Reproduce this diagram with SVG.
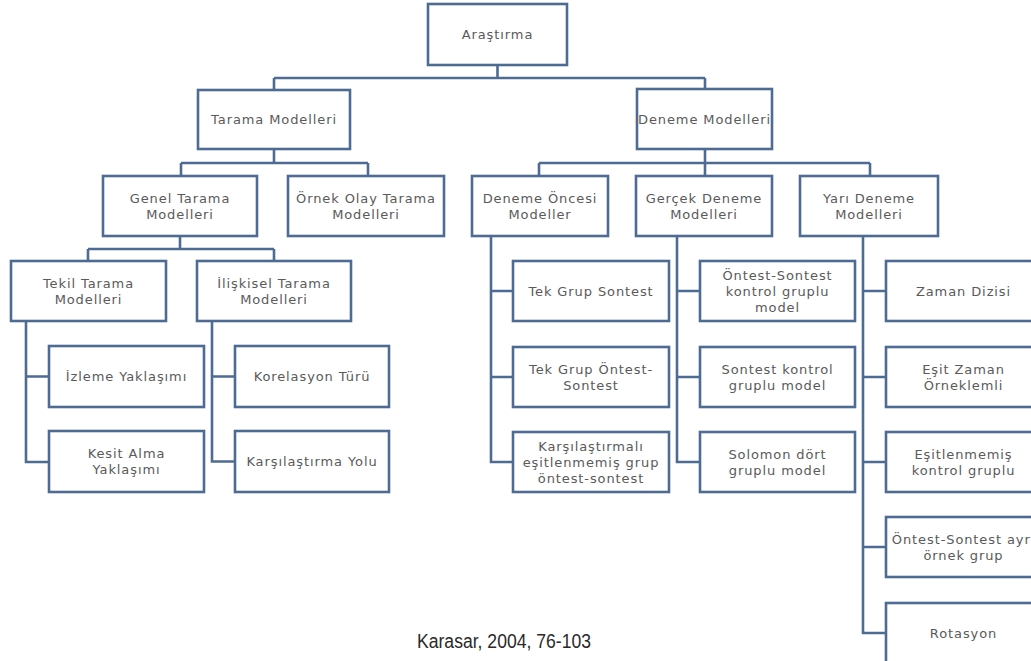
<svg xmlns="http://www.w3.org/2000/svg" width="1031" height="661" viewBox="0 0 1031 661">
<style>
.box{fill:#ffffff;stroke:#4d6b93;stroke-width:2.6}
.lbl{font-family:"DejaVu Sans","Liberation Sans",sans-serif;font-size:13px;letter-spacing:0.9px;fill:#5a5a5a;text-anchor:middle}
.conn{fill:none;stroke:#4d6b93;stroke-width:2.6}
.cite{font-family:"Liberation Sans","Open Sans",sans-serif;font-size:19.5px;fill:#2a2a2a}
</style>
<rect width="1031" height="661" fill="#ffffff"/>
<g id="connectors" class="conn">
<path d="M497.5 65V78M274 78H705M274 78V90M705 78V89"/>
<path d="M274 149V163M181 163H368M181 163V176M368 163V176"/>
<path d="M705 149V163M539 163H870M539 163V176M705 163V176M870 163V176"/>
<path d="M180 236V249M88 249H274M88 249V261M274 249V261"/>
<path d="M26 321V462H49M26 376.5H49"/>
<path d="M212 321V461.5H235M212 376.5H235"/>
<path d="M491 236V462H513M491 291H513M491 377H513"/>
<path d="M677 236V462H700M677 291H700M677 377H700"/>
<path d="M863 236V633H886M863 291H886M863 377H886M863 462H886M863 547H886"/>
</g>
<g id="n_arastirma"><rect class="box" x="428" y="4" width="139" height="61"/><text class="lbl" x="497.5" y="39">Araştırma</text></g>
<g id="n_tarama"><rect class="box" x="198" y="90" width="152" height="59"/><text class="lbl" x="274" y="124">Tarama Modelleri</text></g>
<g id="n_deneme"><rect class="box" x="637" y="89" width="135" height="60"/><text class="lbl" x="704.5" y="123.5">Deneme Modelleri</text></g>
<g id="n_genel"><rect class="box" x="103" y="176" width="154" height="60"/><text class="lbl" x="180" y="202.5">Genel Tarama</text><text class="lbl" x="180" y="218.5">Modelleri</text></g>
<g id="n_ornek"><rect class="box" x="288" y="176" width="156" height="60"/><text class="lbl" x="366" y="202.5">Örnek Olay Tarama</text><text class="lbl" x="366" y="218.5">Modelleri</text></g>
<g id="n_oncesi"><rect class="box" x="472" y="176" width="136" height="60"/><text class="lbl" x="540" y="202.5">Deneme Öncesi</text><text class="lbl" x="540" y="218.5">Modeller</text></g>
<g id="n_gercek"><rect class="box" x="636" y="176" width="136" height="60"/><text class="lbl" x="704" y="202.5">Gerçek Deneme</text><text class="lbl" x="704" y="218.5">Modelleri</text></g>
<g id="n_yari"><rect class="box" x="800" y="176" width="138" height="60"/><text class="lbl" x="869" y="202.5">Yarı Deneme</text><text class="lbl" x="869" y="218.5">Modelleri</text></g>
<g id="n_tekil"><rect class="box" x="11" y="261" width="155" height="60"/><text class="lbl" x="88.5" y="287.5">Tekil Tarama</text><text class="lbl" x="88.5" y="303.5">Modelleri</text></g>
<g id="n_iliskisel"><rect class="box" x="197" y="261" width="154" height="60"/><text class="lbl" x="274" y="287.5">İlişkisel Tarama</text><text class="lbl" x="274" y="303.5">Modelleri</text></g>
<g id="n_izleme"><rect class="box" x="49" y="346" width="155" height="61"/><text class="lbl" x="126.5" y="381">İzleme Yaklaşımı</text></g>
<g id="n_kesit"><rect class="box" x="49" y="431" width="155" height="61"/><text class="lbl" x="126.5" y="458">Kesit Alma</text><text class="lbl" x="126.5" y="474">Yaklaşımı</text></g>
<g id="n_korelasyon"><rect class="box" x="235" y="346" width="154" height="61"/><text class="lbl" x="312" y="381">Korelasyon Türü</text></g>
<g id="n_karsilastirma_yolu"><rect class="box" x="235" y="431" width="154" height="61"/><text class="lbl" x="312" y="466">Karşılaştırma Yolu</text></g>
<g id="n_tek_grup_sontest"><rect class="box" x="513" y="261" width="156" height="60"/><text class="lbl" x="591" y="295.5">Tek Grup Sontest</text></g>
<g id="n_tek_grup_ontest"><rect class="box" x="513" y="347" width="156" height="60"/><text class="lbl" x="591" y="373.5">Tek Grup Öntest-</text><text class="lbl" x="591" y="389.5">Sontest</text></g>
<g id="n_karsilastirmali"><rect class="box" x="513" y="432" width="156" height="60"/><text class="lbl" x="591" y="450.5">Karşılaştırmalı</text><text class="lbl" x="591" y="466.5">eşitlenmemiş grup</text><text class="lbl" x="591" y="482.5">öntest-sontest</text></g>
<g id="n_ontest_sontest_kg"><rect class="box" x="700" y="261" width="155" height="60"/><text class="lbl" x="777.5" y="279.5">Öntest-Sontest</text><text class="lbl" x="777.5" y="295.5">kontrol gruplu</text><text class="lbl" x="777.5" y="311.5">model</text></g>
<g id="n_sontest_kg"><rect class="box" x="700" y="347" width="155" height="60"/><text class="lbl" x="777.5" y="373.5">Sontest kontrol</text><text class="lbl" x="777.5" y="389.5">gruplu model</text></g>
<g id="n_solomon"><rect class="box" x="700" y="432" width="155" height="60"/><text class="lbl" x="777.5" y="458.5">Solomon dört</text><text class="lbl" x="777.5" y="474.5">gruplu model</text></g>
<g id="n_zaman"><rect class="box" x="886" y="261" width="155" height="60"/><text class="lbl" x="963.5" y="295.5">Zaman Dizisi</text></g>
<g id="n_esit_zaman"><rect class="box" x="886" y="347" width="155" height="60"/><text class="lbl" x="963.5" y="373.5">Eşit Zaman</text><text class="lbl" x="963.5" y="389.5">Örneklemli</text></g>
<g id="n_esitlenmemis"><rect class="box" x="886" y="432" width="155" height="60"/><text class="lbl" x="963.5" y="458.5">Eşitlenmemiş</text><text class="lbl" x="963.5" y="474.5">kontrol gruplu</text></g>
<g id="n_ayri_ornek"><rect class="box" x="886" y="517" width="155" height="60"/><text class="lbl" x="963.5" y="543.5">Öntest-Sontest ayrı</text><text class="lbl" x="963.5" y="559.5">örnek grup</text></g>
<g id="n_rotasyon"><rect class="box" x="886" y="603" width="155" height="62"/><text class="lbl" x="963.5" y="637.5">Rotasyon</text></g>
<text class="cite" x="417" y="648" textLength="174" lengthAdjust="spacingAndGlyphs">Karasar, 2004, 76-103</text>
</svg>
